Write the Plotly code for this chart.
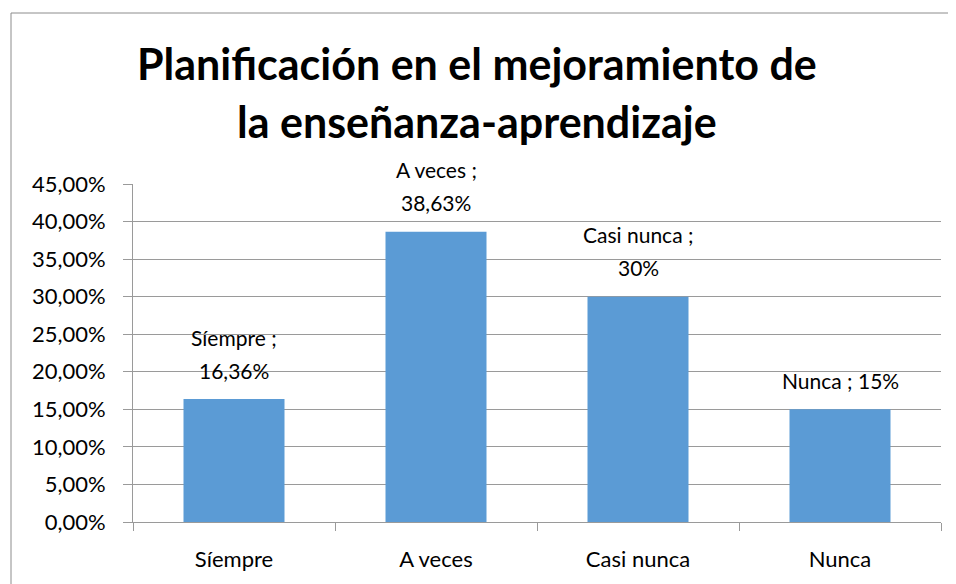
import plotly.graph_objects as go

categories = ["Síempre", "A veces", "Casi nunca", "Nunca"]
values = [0.1636, 0.3863, 0.30, 0.15]
value_labels = ["16,36%", "38,63%", "30%", "15%"]
# Excel wrapped the longer data labels onto two lines
label_breaks = [True, True, True, False]
title_lines = ["Planificación en el mejoramiento de", "la enseñanza-aprendizaje"]

FONT = "Lato"
GRID = "#9a9a9a"
BAR = "#5B9BD5"

# the page body adds an 8px margin, so the figure is laid out 8px up/left
OFF = 8
W, H = 956 - OFF, 584 - OFF
L, T = 133 - OFF, 184 - OFF
plot_w, plot_h = 808, 338
R = W - L - plot_w
B = H - T - plot_h


def px_to_paper_x(px):
    return (px - OFF - L) / plot_w


def px_to_paper_y(py):
    return (T + plot_h - (py - OFF)) / plot_h


fig = go.Figure()
fig.add_trace(
    go.Bar(
        x=categories,
        y=values,
        width=0.5,
        marker=dict(color=BAR, line=dict(width=0)),
        hoverinfo="skip",
    )
)

for cat, v, lab, brk in zip(categories, values, value_labels, label_breaks):
    lines = [f"{cat} ;", lab] if brk else [f"{cat} ; {lab}"]
    for i, line in enumerate(reversed(lines)):
        fig.add_annotation(
            x=cat, y=v, text=line, showarrow=False,
            yanchor="middle", yshift=29 + 33 * i,
            font=dict(family=FONT, size=21, color="#000000"),
        )

for line, py in zip(title_lines, [63, 122]):
    fig.add_annotation(
        x=px_to_paper_x(477), y=px_to_paper_y(py), xref="paper", yref="paper",
        text=f"<b>{line}</b>", showarrow=False, xanchor="center", yanchor="middle",
        font=dict(family=FONT, size=43, color="#000000"),
    )

# chart frame (cut at right and bottom in the original)
fig.add_shape(
    type="rect", xref="paper", yref="paper",
    x0=px_to_paper_x(11), x1=px_to_paper_x(1000),
    y0=px_to_paper_y(640), y1=px_to_paper_y(13),
    line=dict(color="#8c8c8c", width=1), fillcolor="rgba(0,0,0,0)",
)

fig.update_xaxes(
    range=[-0.5, 3.5],
    showline=True, linecolor=GRID, linewidth=1,
    ticks="outside", tickson="boundaries", ticklen=8, tickcolor=GRID,
    tickfont=dict(family=FONT, size=22, color="#000000"),
    ticklabelstandoff=18,
    showgrid=False,
)
fig.update_yaxes(
    range=[0, 0.45], dtick=0.05, tickformat=".2%",
    showline=True, linecolor=GRID, linewidth=1,
    ticks="outside", ticklen=9, tickcolor=GRID,
    tickfont=dict(family=FONT, size=22, color="#000000"),
    ticklabelstandoff=13,
    showgrid=True, gridcolor=GRID, gridwidth=1,
    zeroline=False,
)

fig.update_layout(
    width=W, height=H,
    margin=dict(l=L, r=R, t=T, b=B),
    separators=",.",
    paper_bgcolor="white", plot_bgcolor="white",
    showlegend=False,
    font=dict(family=FONT, color="#000000"),
)

fig.write_html("out.html")
